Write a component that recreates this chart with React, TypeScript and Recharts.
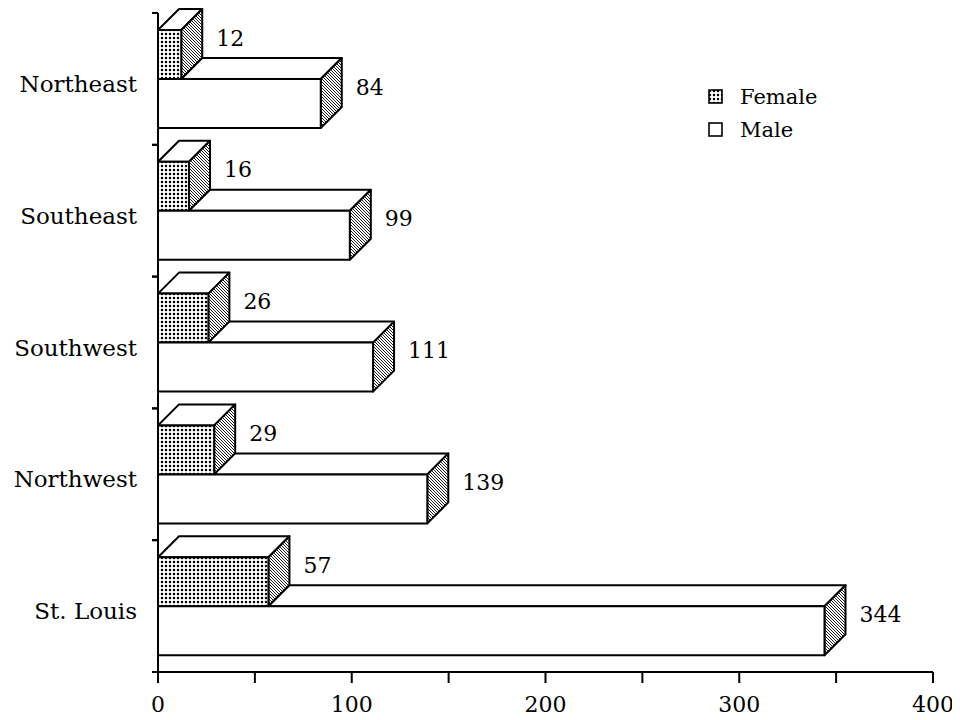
import { BarChart, Bar, XAxis, YAxis, Legend, LabelList } from "recharts";

const regions = ["Northeast", "Southeast", "Southwest", "Northwest", "St. Louis"];
const female = [12, 16, 26, 29, 57];
const male = [84, 99, 111, 139, 344];
const xTicks = [0, 50, 100, 150, 200, 250, 300, 350, 400];

const data = regions.map((region, i) => ({ region, Female: female[i], Male: male[i] }));

const FONT = "'DejaVu Serif', serif";
const DEPTH = 21; // 3D offset of the boxes

// front face, top face, side face of a box
function FemaleBox(props: any) {
  const { x, y, width: w, height: h } = props;
  const d = DEPTH;
  return (
    <g stroke="#000" strokeWidth={2} strokeLinejoin="round">
      <polygon points={`${x},${y} ${x + d},${y - d} ${x + w + d},${y - d} ${x + w},${y}`} fill="#fff" />
      <polygon points={`${x + w},${y} ${x + w + d},${y - d} ${x + w + d},${y + h - d} ${x + w},${y + h}`} fill="url(#hatch)" />
      <rect x={x} y={y} width={w} height={h} fill="url(#dots)" />
    </g>
  );
}

function MaleBox(props: any) {
  const { x, y, width: w, height: h, payload } = props;
  const d = DEPTH;
  // the part of the top face hidden behind the female box is skipped
  const fw = payload.Male ? (w * payload.Female) / payload.Male : 0;
  return (
    <g stroke="#000" strokeWidth={2} strokeLinejoin="round">
      <polygon points={`${x + fw},${y} ${x + fw + d},${y - d} ${x + w + d},${y - d} ${x + w},${y}`} fill="#fff" />
      <polygon points={`${x + w},${y} ${x + w + d},${y - d} ${x + w + d},${y + h - d} ${x + w},${y + h}`} fill="url(#hatch)" />
      <rect x={x} y={y} width={w} height={h} fill="#fff" />
    </g>
  );
}

function ValueLabel(props: any) {
  const { x, y, width, value } = props;
  return (
    <text x={x + width + DEPTH + 14} y={y + 8} fontFamily={FONT} fontSize={22} fill="#000" dominantBaseline="central">
      {value}
    </text>
  );
}

// category label plus the short ticks on the band edges
function RegionTick(props: any) {
  const { x, y, payload } = props;
  const half = payload.offset || 0;
  return (
    <g>
      {half > 0 && (
        <g stroke="#000" strokeWidth={2}>
          <line x1={x + 15} x2={x + 21} y1={y - half} y2={y - half} />
          <line x1={x + 15} x2={x + 21} y1={y + half} y2={y + half} />
        </g>
      )}
      <text x={x} y={y + 5} textAnchor="end" dominantBaseline="central" fontFamily={FONT} fontSize={23} fill="#000">
        {payload.value}
      </text>
    </g>
  );
}

function LegendBox() {
  const items = [
    { name: "Female", fill: "url(#dots)" },
    { name: "Male", fill: "#fff" },
  ];
  return (
    <div style={{ fontFamily: FONT, fontSize: 21, color: "#000" }}>
      {items.map(it => (
        <div key={it.name} style={{ display: "flex", alignItems: "center", height: 33 }}>
          <svg width={15} height={15} style={{ marginRight: 17 }}>
            <rect x={1} y={1} width={13} height={13} fill={it.fill} stroke="#000" strokeWidth={1.6} />
          </svg>
          {it.name}
        </div>
      ))}
    </div>
  );
}

export default function App() {
  return (
    <div style={{ position: "relative", width: 952, height: 712, background: "#fff" }}>
      <svg width={0} height={0} style={{ position: "absolute" }}>
        <defs>
          <pattern id="dots" width={4} height={4} patternUnits="userSpaceOnUse">
            <rect width={4} height={4} fill="#fff" />
            <circle cx={2} cy={2} r={1.25} fill="#000" />
          </pattern>
          <pattern id="hatch" width={3} height={3} patternUnits="userSpaceOnUse">
            <rect width={3} height={3} fill="#fff" />
            <path d="M-1,-1 L4,4 M2,-1 L4,1 M-1,2 L1,4" stroke="#000" strokeWidth={0.9} />
          </pattern>
        </defs>
      </svg>
      <BarChart
        width={952}
        height={712}
        data={data}
        layout="vertical"
        margin={{ top: 5, right: 27, left: 0, bottom: 0 }}
        barSize={49}
        barGap={0}
      >
        <XAxis
          type="number"
          domain={[0, 400]}
          ticks={xTicks}
          height={48}
          tickFormatter={(v: number) => (v % 100 === 0 ? String(v) : "")}
          tickSize={11}
          tickMargin={13}
          axisLine={{ stroke: "#000", strokeWidth: 2 }}
          tickLine={{ stroke: "#000", strokeWidth: 2 }}
          tick={{ fill: "#000", fontFamily: FONT, fontSize: 22 }}
        />
        <YAxis
          type="category"
          dataKey="region"
          width={150}
          tickSize={0}
          tickMargin={21}
          axisLine={{ stroke: "#000", strokeWidth: 2 }}
          tickLine={false}
          tick={<RegionTick />}
        />
        <Legend
          layout="horizontal"
          verticalAlign="middle"
          align="center"
          content={<LegendBox />}
          wrapperStyle={{ position: "absolute", left: 700, top: 72, width: 140, height: 70 }}
        />
        <Bar dataKey="Female" name="Female" shape={<FemaleBox />} isAnimationActive={false}>
          <LabelList dataKey="Female" content={<ValueLabel />} />
        </Bar>
        <Bar dataKey="Male" name="Male" shape={<MaleBox />} isAnimationActive={false}>
          <LabelList dataKey="Male" content={<ValueLabel />} />
        </Bar>
      </BarChart>
    </div>
  );
}
